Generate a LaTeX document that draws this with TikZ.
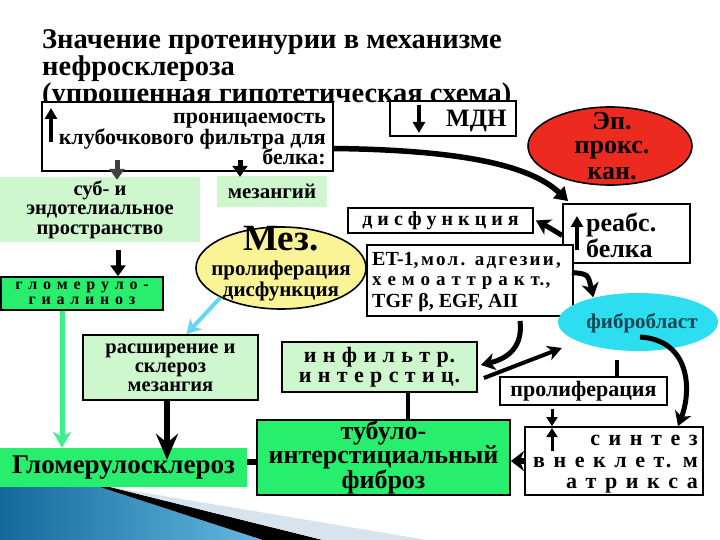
\documentclass[tikz,border=0pt]{standalone}
\usepackage{fontspec}
\setmainfont{Liberation Serif}
\usetikzlibrary{arrows.meta,shapes.geometric,calc}
\definecolor{lgreen}{RGB}{206,247,206}
\definecolor{bgreen}{RGB}{40,238,110}
\definecolor{redell}{RGB}{236,42,32}
\definecolor{yell}{RGB}{250,244,150}
\definecolor{cyanell}{RGB}{45,222,240}
\definecolor{cyarrow}{RGB}{100,215,240}
\definecolor{garrow}{RGB}{60,240,140}
\definecolor{fibtext}{RGB}{15,70,85}
\definecolor{bandgray}{RGB}{215,228,238}
\definecolor{blueA}{RGB}{20,105,155}
\definecolor{blueB}{RGB}{100,185,225}
\newcommand{\fs}[2]{\fontsize{#1}{#2}\selectfont}
\newcommand{\lsp}[1]{\addfontfeature{LetterSpace=#1}}
\tikzset{
  bx/.style={draw, line width=1.8pt, inner sep=0pt, align=center, font=\bfseries},
  fl/.style={inner sep=0pt, align=center, font=\bfseries},
  lbl/.style={inner sep=0pt, font=\bfseries},
  arr/.style={line width=5pt, -{Triangle[width=15pt,length=11pt]}},
  sarr/.style={line width=5pt, -{Stealth[width=17pt,length=14pt,inset=4pt]}},
  marr/.style={line width=3.5pt, -{Triangle[width=12pt,length=11pt]}},
}
\begin{document}
\begin{tikzpicture}[x=1pt,y=-1pt]
\useasboundingbox (0,0) rectangle (720,540);
\fill[white] (0,0) rectangle (720,540);
% bottom decoration
\shade[left color=blueA, right color=blueB] (0,487) -- (100,487) -- (263,540) -- (0,540) -- cycle;
\fill[black] (100,487) -- (110,487) -- (323,540) -- (263,540) -- cycle;
\fill[bandgray] (110,487) -- (427,540) -- (323,540) -- cycle;
% title
\node[lbl, anchor=base west, font=\bfseries\fs{28.5}{28}] (ti1) at (42,49) {Значение протеинурии в механизме};
\node[lbl, anchor=base west, font=\bfseries\fs{28.5}{28}] (ti2) at (42,76) {нефросклероза};
\node[lbl, anchor=base west, font=\bfseries\fs{28.5}{28}] (ti3) at (42,103) {(упрощенная гипотетическая схема)};
% top boxes
\node[bx, fill=white, minimum width=291pt, minimum height=69pt] (box1) at (187.5,136.5) {};
\node[lbl, anchor=base east, font=\bfseries\fs{22}{22}] (b1a) at (326,124) {проницаемость};
\node[lbl, anchor=base east, font=\bfseries\fs{22}{22}] (b1b) at (326,145) {клубочкового фильтра для};
\node[lbl, anchor=base east, font=\bfseries\fs{22}{22}] (b1c) at (326,165) {белка:};
\draw[marr] (51,142) -- (51,108);
\node[bx, fill=white, minimum width=126pt, minimum height=35pt] (mdn) at (453,118.5) {};
\node[lbl, anchor=base west, font=\bfseries\fs{25}{25}] (mdnt) at (446,127) {МДН};
\draw[marr] (419,105) -- (419,133);
\node[ellipse, draw, line width=1.6pt, fill=redell, minimum width=164pt, minimum height=78pt, inner sep=0pt] (ep) at (610,146) {};
\node[lbl, font=\bfseries\fs{26}{26}, anchor=base] (ep1) at (612,130) {Эп.};
\node[lbl, font=\bfseries\fs{26}{26}, anchor=base] (ep2) at (612,154) {прокс.};
\node[lbl, font=\bfseries\fs{26}{26}, anchor=base] (ep3) at (612,180) {кан.};
% green boxes left
\node[fl, fill=lgreen, minimum width=110pt, minimum height=31pt, font=\bfseries\fs{21}{19}] (mezang) at (272,191.5) {мезангий};
\node[fl, fill=lgreen, minimum width=200pt, minimum height=65pt, font=\bfseries\fs{20.5}{19.5}] (sub) at (100,209.5) {суб- и\\эндотелиальное\\пространство};
\node[bx, line width=1.5pt, fill=bgreen, minimum width=162pt, minimum height=33pt, font=\bfseries\fs{16}{15}\lsp{11}] (glhyal) at (82,293.5) {г л о м е р у л о -\\г и а л и н о з};
% middle
\node[bx, fill=white, minimum width=185pt, minimum height=25pt, font=\bfseries\fs{20}{20}] (dysf) at (440.5,220.5) {д и с ф у н к ц и я};
\node[bx, fill=white, minimum width=127pt, minimum height=59pt] (reabs) at (626.5,233.5) {};
\node[lbl, anchor=base west, font=\bfseries\fs{26}{26}] (re1) at (586,232) {реабс.};
\node[lbl, anchor=base west, font=\bfseries\fs{26}{26}] (re2) at (586,257) {белка};
\draw[marr] (577,250) -- (577,216);
\node[bx, fill=white, minimum width=206pt, minimum height=71pt] (et) at (470,280.5) {};
\node[lbl, anchor=base west] (et1) at (372,265) {{\fs{20}{20}ET-1,} {\fs{19}{19}\lsp{12}мол. адгезии,}};
\node[lbl, anchor=base west, font=\bfseries\fs{19}{19}\lsp{6}] (et2) at (372,285) {х е м о а т т р а к т.,};
\node[lbl, anchor=base west, font=\bfseries\fs{20}{20}] (et3) at (372,307) {TGF β, EGF, AII};
\node[ellipse, draw, line width=1.6pt, fill=yell, minimum width=170pt, minimum height=82pt, inner sep=0pt] (mez) at (281,268) {};
\node[lbl, anchor=base, font=\bfseries\fs{37}{37}] (mz1) at (281,251) {Мез.};
\node[lbl, anchor=base, font=\bfseries\fs{21}{21}] (mz2) at (281,275) {пролиферация};
\node[lbl, anchor=base, font=\bfseries\fs{21}{21}] (mz3) at (281,296) {дисфункция};
\node[ellipse, fill=cyanell, minimum width=160pt, minimum height=58pt, inner sep=0pt] (fibro) at (638,322) {};
\node[lbl, anchor=base, text=fibtext, font=\bfseries\fs{21}{21}] (fibt) at (642,328) {фибробласт};
% lower
\node[bx, fill=lgreen, minimum width=175pt, minimum height=65pt, font=\bfseries\fs{20.5}{19}] (rassh) at (170.5,367.5) {расширение и\\склероз\\мезангия};
\node[fl, fill=bgreen, minimum width=247pt, minimum height=39pt, font=\bfseries\fs{27}{27}] (glscl) at (123.5,467.5) {Гломерулосклероз};
\node[bx, fill=bgreen, minimum width=253pt, minimum height=75pt, font=\bfseries\fs{26}{22.5}] (tubulo) at (383.5,457.5) {тубуло-\\интерстициальный\\фиброз};
\node[bx, fill=lgreen, minimum width=195pt, minimum height=50pt, font=\bfseries\fs{22}{20}\lsp{4}] (infil) at (379.5,367) {и н ф и л ь т р.\\и н т е р с т и ц.};
\node[bx, fill=white, minimum width=167pt, minimum height=28pt, font=\bfseries\fs{22}{22}] (prolif) at (583.5,391) {пролиферация};
\node[bx, fill=white, minimum width=178pt, minimum height=68pt] (sint) at (614,461) {};
\node[lbl, anchor=base east, font=\bfseries\fs{22}{22}\lsp{14}] (si1) at (698,445) {с и н т е з};
\node[lbl, anchor=base east, font=\bfseries\fs{22}{22}\lsp{14}] (si2) at (698,467) {в н е к л е т. м};
\node[lbl, anchor=base east, font=\bfseries\fs{22}{22}\lsp{14}] (si3) at (698,488) {а т р и к с а};
% connectors
\draw[line width=5.5pt, -{Triangle[width=16pt,length=13pt]}] ([yshift=-12pt]box1.east) .. controls (460,150) and (530,165) .. ([xshift=6pt,yshift=2pt]reabs.north west);
\draw[arr, draw=black!75] ([xshift=-70.5pt,yshift=12pt]box1.south) -- ([xshift=17pt,yshift=-3pt]sub.north);
\draw[arr] ([xshift=52.5pt,yshift=12pt]box1.south) -- ([xshift=-32pt,yshift=-1pt]mezang.north);
\draw[arr] ([xshift=18pt,yshift=-8pt]sub.south) -- ([xshift=36pt]glhyal.north);
\draw[line width=5pt, draw=garrow, -{Stealth[width=18pt,length=16pt,inset=5pt]}] ([xshift=-20pt]glhyal.south) -- ([xshift=-61.5pt]glscl.north);
\draw[line width=4pt, draw=cyarrow, -{Stealth[width=16pt,length=14pt,inset=4pt]}] (mez.south west) -- ([xshift=16pt]rassh.north);
\draw[line width=6pt, -{Stealth[width=22pt,length=26pt,inset=9pt]}] ([xshift=-3.5pt]rassh.south) -- ([xshift=43.5pt,yshift=-12pt]glscl.north);
\draw[line width=6pt] ([yshift=5.5pt]glscl.east) -- ([yshift=-4.5pt]tubulo.west);
\draw[line width=4pt] ([xshift=28.5pt]infil.south) -- ([xshift=24.5pt]tubulo.north);
\draw[sarr] ([yshift=-2pt]reabs.west) .. controls (550,228) .. ([xshift=2pt]dysf.east);
\draw[sarr] ([xshift=-2pt,yshift=8pt]et.east) .. controls (588,274) .. ([xshift=12pt,yshift=4pt]fibro.north west);
\draw[sarr] ([xshift=50pt,yshift=-4pt]et.south) .. controls (523,345) and (510,358) .. ([xshift=3pt,yshift=2pt]infil.east);
\draw[line width=4pt, -{Stealth[width=15pt,length=14pt,inset=4pt]}] ([xshift=6pt,yshift=-11pt]infil.east) -- ([xshift=4pt,yshift=-26pt]fibro.west);
\draw[sarr] ([xshift=2pt,yshift=-15pt]fibro.center) .. controls (690,340) and (692,390) .. ([xshift=64pt]sint.north);
\draw[line width=3.5pt] ([xshift=-21pt,yshift=-9pt]fibro.south) -- ([xshift=33.5pt]prolif.north);
\draw[line width=3pt, -{Triangle[width=11pt,length=9pt]}] ([xshift=-31.5pt,yshift=-3pt]prolif.south) -- ([xshift=-62pt]sint.north);
\draw[line width=3pt, -{Triangle[width=11pt,length=9pt]}] ([xshift=-62pt,yshift=-25pt]sint.north) -- ([xshift=-62pt,yshift=-2pt]sint.north);
\draw[line width=6pt, -{Stealth[width=20pt,length=13pt,inset=4pt]}] (sint.west) -- ([yshift=-3.5pt]tubulo.east);
\end{tikzpicture}
\end{document}
